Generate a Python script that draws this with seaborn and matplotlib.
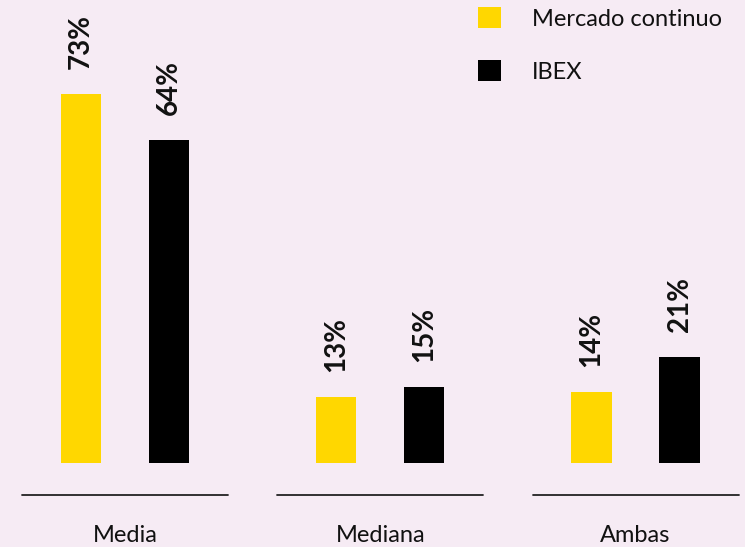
import matplotlib
matplotlib.use("Agg")
import matplotlib.pyplot as plt
import seaborn as sns
import pandas as pd

# Chart data
categories = ["Media", "Mediana", "Ambas"]
series_names = ["Mercado continuo", "IBEX"]
mercado_continuo = [73, 13, 14]
ibex = [64, 15, 21]

BG = "#f6ebf4"
YELLOW = "#ffd700"
BLACK = "#000000"

sns.set_theme(style="white")
plt.rcParams["font.family"] = ["Lato", "DejaVu Sans"]

df = pd.DataFrame({
    "categoria": categories * 2,
    "serie": [series_names[0]] * len(categories) + [series_names[1]] * len(categories),
    "valor": mercado_continuo + ibex,
})

W, H = 745, 547
fig = plt.figure(figsize=(W / 100, H / 100), dpi=100, facecolor=BG)
ax = fig.add_axes([0, 84 / H, 1, 463 / H])
ax.set_facecolor(BG)

sns.barplot(
    data=df, x="categoria", y="valor", hue="serie",
    order=categories, hue_order=series_names,
    palette=[YELLOW, BLACK], width=0.69, gap=0.545,
    errorbar=None, saturation=1, linewidth=0, ax=ax,
)

px_per_unit = 255.25
ax.set_xlim(-125 / px_per_unit, (W - 125) / px_per_unit)
ax.set_ylim(0, 463 / 5.05)

for container in ax.containers:
    ax.bar_label(container, labels=[f"{v:.0f}%" for v in container.datavalues],
                 rotation=90, padding=18, fontsize=20, fontweight="bold",
                 color="#111111")

# Separate baseline under each group
half = 103 / px_per_unit
for i in range(len(categories)):
    ax.plot([i - half, i + half], [-32 / 463, -32 / 463], color="#222222",
            lw=1.3, transform=ax.get_xaxis_transform(), clip_on=False)

sns.despine(ax=ax, left=True, bottom=True)
ax.set_xlabel("")
ax.set_ylabel("")
ax.set_yticks([])
ax.tick_params(axis="x", length=0, pad=45, labelsize=17, labelcolor="#111111")

handles, labels = ax.get_legend_handles_labels()
leg = ax.legend(handles, labels, loc="upper left",
                bbox_to_anchor=(469 / W, 1 + 2 / H), bbox_transform=fig.transFigure,
                frameon=False, fontsize=17, handlelength=0.95, handleheight=0.95,
                handletextpad=1.3, labelspacing=1.3, borderaxespad=0.0)
for t in leg.get_texts():
    t.set_color("#111111")

fig.savefig("out.png", dpi=100, facecolor=BG)
